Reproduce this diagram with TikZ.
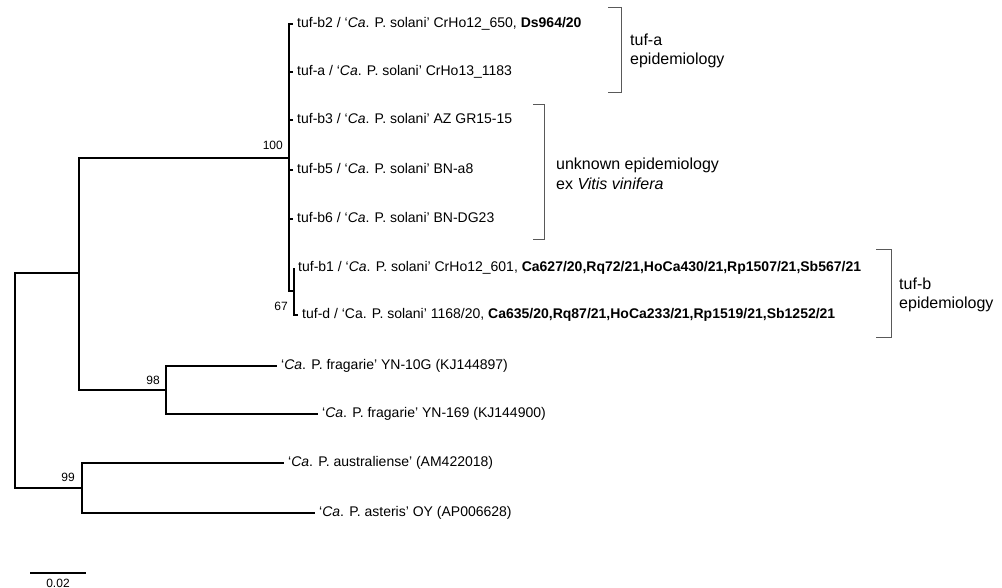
\documentclass[tikz,border=0pt]{standalone}
\usepackage{fontspec}
\setmainfont{Liberation Sans}
\usepackage{tikz}

\begin{document}
\begin{tikzpicture}[x=1pt, y=-1pt,
    branch/.style={line width=1.7pt},
    leaf/.style={anchor=west, inner xsep=4pt, inner ysep=0pt, text height=10pt, text depth=3pt, font=\fontsize{14}{16}\selectfont},
    boot/.style={inner sep=0pt, font=\fontsize{12}{14}\selectfont},
    bracket/.style={line width=0.8pt, black!65},
    grp/.style={anchor=west, align=left, inner xsep=4pt, inner ysep=0pt, font=\fontsize{16}{19.5}\selectfont}]

        \useasboundingbox (0,0) rectangle (1002,588);

        % Internal nodes
        \coordinate (root) at (15,380);
        \coordinate (nA) at (79,273);
        \coordinate (n100) at (289,158);
        \coordinate (n67) at (294,291);
        \coordinate (n98) at (166,390);
        \coordinate (n99) at (82,488);

        % Leaves
        \node[leaf] (b2) at (293,24) {tuf-b2 / ‘\textit{Ca}. P. solani’ CrHo12\_650, \textbf{Ds964/20}};
        \node[leaf] (a) at (293,72) {tuf-a / ‘\textit{Ca}. P. solani’ CrHo13\_1183};
        \node[leaf] (b3) at (293,120) {tuf-b3 / ‘\textit{Ca}. P. solani’ AZ GR15-15};
        \node[leaf] (b5) at (293,170) {tuf-b5 / ‘\textit{Ca}. P. solani’ BN-a8};
        \node[leaf] (b6) at (293,219) {tuf-b6 / ‘\textit{Ca}. P. solani’ BN-DG23};
        \node[leaf] (b1) at (294,268) {tuf-b1 / ‘\textit{Ca}. P. solani’ CrHo12\_601, \textbf{Ca627/20,Rq72/21,HoCa430/21,Rp1507/21,Sb567/21}};
        \node[leaf] (d) at (298,315) {tuf-d / ‘Ca. P. solani’ 1168/20, \textbf{Ca635/20,Rq87/21,HoCa233/21,Rp1519/21,Sb1252/21}};
        \node[leaf] (f10) at (277,366) {‘\textit{Ca}. P. fragarie’ YN-10G (KJ144897)};
        \node[leaf] (f169) at (318,414) {‘\textit{Ca}. P. fragarie’ YN-169 (KJ144900)};
        \node[leaf] (aus) at (284,463) {‘\textit{Ca}. P. australiense’ (AM422018)};
        \node[leaf] (ast) at (315,513) {‘\textit{Ca}. P. asteris’ OY (AP006628)};

        % Branches
        \draw[branch] (root) |- (nA);
        \draw[branch] (root) |- (n99);
        \draw[branch] (nA) |- (n100);
        \draw[branch] (nA) |- (n98);
        \foreach \tip in {b2,a,b3,b5,b6}
            \draw[branch] (n100) |- (\tip);
        \draw[branch] (n100) |- (n67);
        \draw[branch] (n67) |- (b1);
        \draw[branch] (n67) |- (d);
        \draw[branch] (n98) |- (f10);
        \draw[branch] (n98) |- (f169);
        \draw[branch] (n99) |- (aus);
        \draw[branch] (n99) |- (ast);

        % Bootstrap values
        \node[boot, anchor=east] (l100) at (283,145) {100};
        \node[boot, anchor=east] (l67) at (288,306) {67};
        \node[boot, anchor=east] (l98) at (160,380) {98};
        \node[boot, anchor=east] (l99) at (75,477) {99};

        % Scale bar
        \coordinate (s0) at (30,573);
        \coordinate (s1) at (86,573);
        \draw[branch] (s0) -- (s1) node[boot, midway, below=5pt] (scale) {0.02};

        % Epidemiology groups
        \draw[bracket] (608,7) -- (621,7) -- (621,92) -- (608,92);
        \node[grp] (grpA) at (626,51) {tuf-a\\epidemiology};
        \draw[bracket] (533,104) -- (544,104) -- (544,239) -- (533,239);
        \node[grp] (grpU) at (552,174) {unknown epidemiology\\ex \textit{Vitis vinifera}};
        \draw[bracket] (876,249) -- (891,249) -- (891,337) -- (876,337);
        \node[grp] (grpB) at (895,295) {tuf-b\\epidemiology};

    \end{tikzpicture}
\end{document}
